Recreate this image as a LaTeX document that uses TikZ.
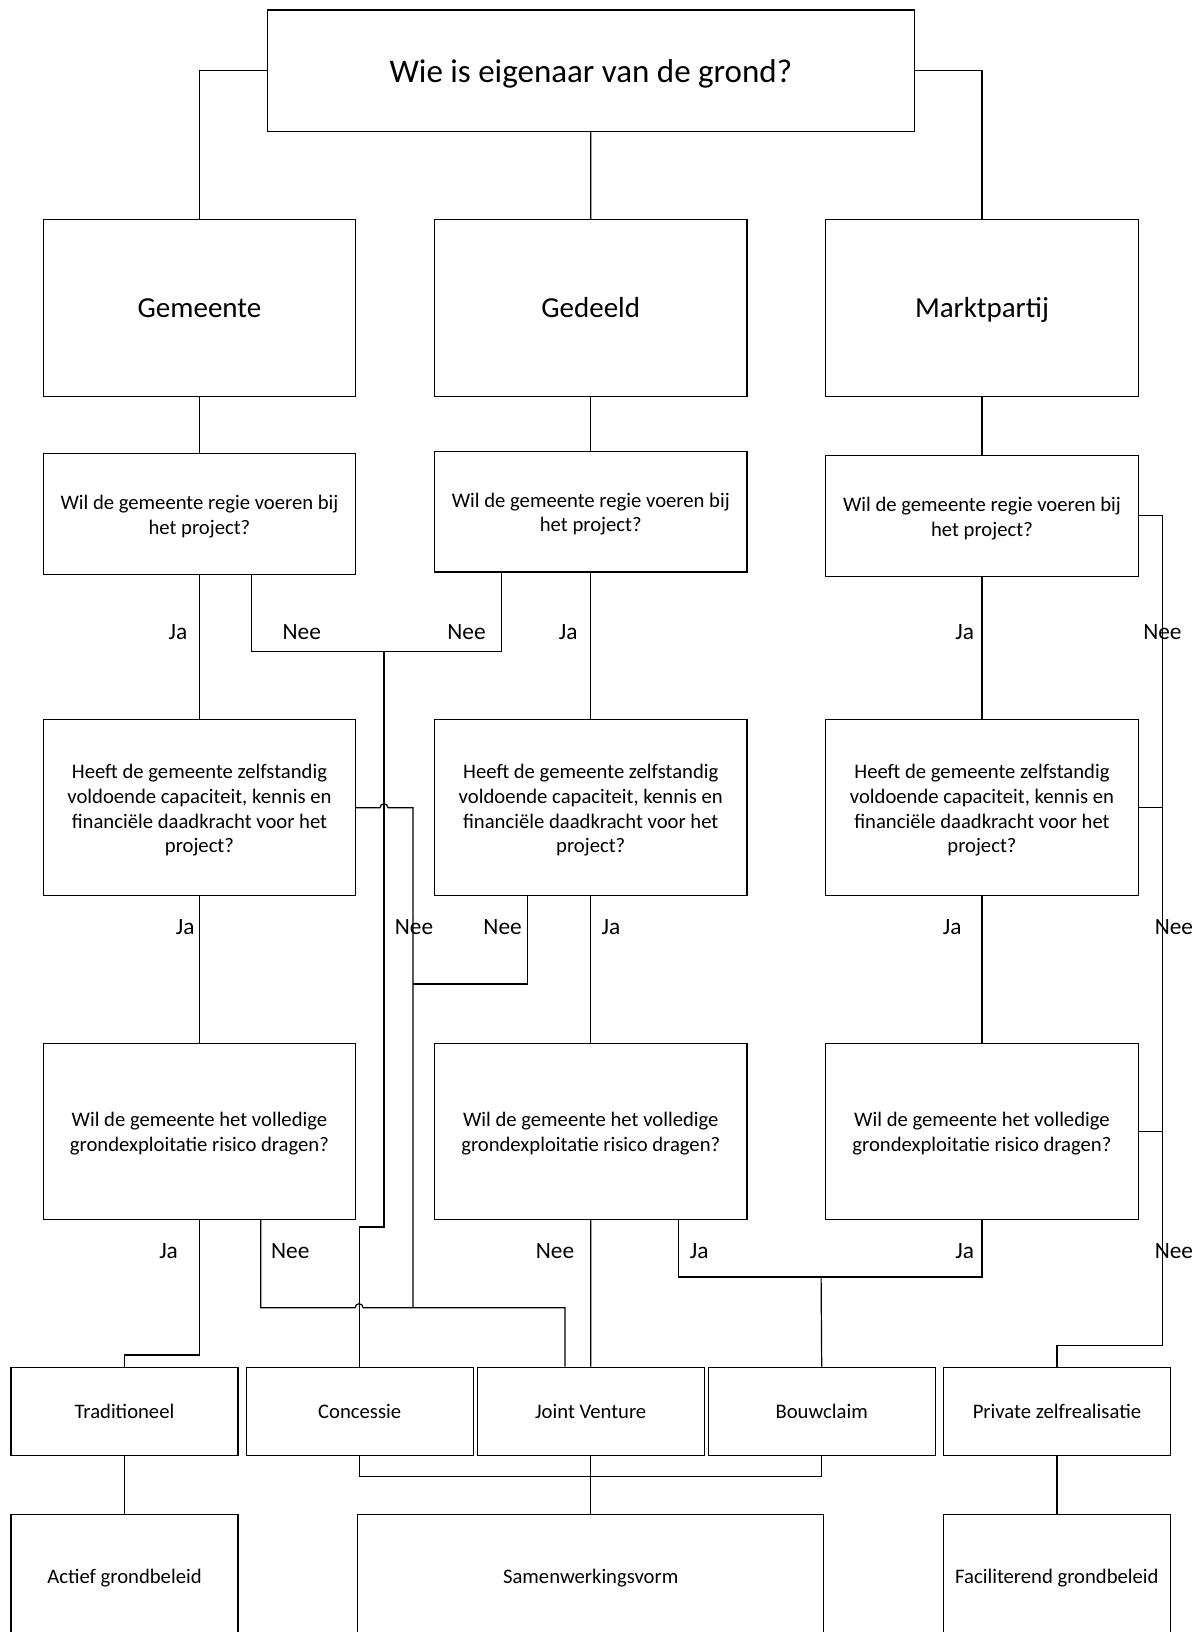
\documentclass[tikz,border=0pt]{standalone}
\usepackage{fontspec}
\setmainfont{Carlito}
\newcommand\qlines[1]{\raisebox{-2.3pt}[\height][\depth]{\begin{tabular}{@{}c@{}}#1\end{tabular}}}
\begin{document}
\begin{tikzpicture}[x=0.75pt,y=-0.75pt,line width=0.9pt,
  bx/.style 2 args={draw,line width=0.9pt,inner sep=0pt,anchor=north west,
     minimum width=#1*0.75pt,minimum height=#2*0.75pt},
  qtxt/.style={font=\fontsize{15.5pt}{18.5pt}\selectfont},
  stxt/.style={font=\fontsize{15.5pt}{18.5pt}\selectfont,text depth=0pt},
  htxt/.style={font=\fontsize{21.75pt}{26pt}\selectfont,text depth=0pt},
  ttxt/.style={font=\fontsize{24.75pt}{30pt}\selectfont,text depth=0pt},
  lab/.style={anchor=base,inner sep=0pt,font=\fontsize{17.5pt}{21pt}\selectfont}]
\useasboundingbox (0,0) rectangle (1203,1632);
\clip (0,0) rectangle (1203,1632);
% top
\node[bx={647}{121.4},ttxt] (top) at (266.7,9.3) {Wie is eigenaar van de grond?};
% row 1
\node[bx={312.3}{176.5},htxt] (g1) at (42.7,219) {Gemeente};
\node[bx={312.3}{176.5},htxt] (d1) at (434,219) {Gedeeld};
\node[bx={312.3}{176.5},htxt] (m1) at (825.2,219) {Marktpartij};
% row 2
\node[bx={312.3}{121.3},qtxt] (gq1) at (42.7,452.7) {\qlines{Wil de gemeente regie voeren bij\\het project?}};
\node[bx={312.3}{120.7},qtxt] (dq1) at (434,450.6) {\qlines{Wil de gemeente regie voeren bij\\het project?}};
\node[bx={312.3}{120.7},qtxt] (mq1) at (825.2,454.8) {\qlines{Wil de gemeente regie voeren bij\\het project?}};
% row 3
\node[bx={312.3}{176}, qtxt] (gq2) at (42.7,719.1) {\qlines{Heeft de gemeente zelfstandig\\voldoende capaciteit, kennis en\\financiële daadkracht voor het\\project?}};
\node[bx={312.3}{176}, qtxt] (dq2) at (434,719.1) {\qlines{Heeft de gemeente zelfstandig\\voldoende capaciteit, kennis en\\financiële daadkracht voor het\\project?}};
\node[bx={312.3}{176}, qtxt] (mq2) at (825.2,719.1) {\qlines{Heeft de gemeente zelfstandig\\voldoende capaciteit, kennis en\\financiële daadkracht voor het\\project?}};
% row 4
\node[bx={312.3}{176}, qtxt] (gq3) at (42.7,1042.7) {\qlines{Wil de gemeente het volledige\\grondexploitatie risico dragen?}};
\node[bx={312.3}{176}, qtxt] (dq3) at (434,1042.7) {\qlines{Wil de gemeente het volledige\\grondexploitatie risico dragen?}};
\node[bx={312.3}{176}, qtxt] (mq3) at (825.2,1042.7) {\qlines{Wil de gemeente het volledige\\grondexploitatie risico dragen?}};
% row 5
\node[bx={227}{88.3},stxt] (trad) at (10.4,1366.7) {Traditioneel};
\node[bx={227}{88.3},stxt] (conc) at (245.6,1366.7) {Concessie};
\node[bx={227}{88.3},stxt] (jv) at (476.6,1366.7) {Joint Venture};
\node[bx={227}{88.3},stxt] (bouw) at (707.6,1366.7) {Bouwclaim};
\node[bx={227}{88.3},stxt] (priv) at (942.8,1366.7) {Private zelfrealisatie};
% row 6 (cut off at the bottom)
\node[bx={227}{124},stxt] (actief) at (10.4,1513.7) {Actief grondbeleid};
\node[bx={466.2}{124},stxt] (samen) at (357,1513.7) {Samenwerkingsvorm};
\node[bx={227}{124},stxt] (facil) at (942.8,1513.7) {Faciliterend grondbeleid};
% labels
\node[lab] (la1) at (178,639) {Ja};
\node[lab] (la2) at (301.8,639) {Nee};
\node[lab] (la3) at (466.5,639) {Nee};
\node[lab] (la4) at (568.2,639) {Ja};
\node[lab] (la5) at (964.7,639) {Ja};
\node[lab] (la6) at (1162.4,639) {Nee};
\node[lab] (lb1) at (185.2,934.7) {Ja};
\node[lab] (lb2) at (414,934.7) {Nee};
\node[lab] (lb3) at (502.6,934.7) {Nee};
\node[lab] (lb4) at (610.9,934.7) {Ja};
\node[lab] (lb5) at (952.2,934.7) {Ja};
\node[lab] (lb6) at (1173.9,934.7) {Nee};
\node[lab] (lc1) at (168.6,1258.5) {Ja};
\node[lab] (lc2) at (290.3,1258.5) {Nee};
\node[lab] (lc3) at (555,1258.5) {Nee};
\node[lab] (lc4) at (699.3,1258.5) {Ja};
\node[lab] (lc5) at (964.7,1258.5) {Ja};
\node[lab] (lc6) at (1173.9,1258.5) {Nee};
% junction coordinates
\coordinate (nj1) at (384,651.7);
\coordinate (nj2) at (413,1307.7);
\coordinate (bj) at (821.1,1277);
% top connectors
\draw (top.west) -| (g1.north);
\draw (top.east) -| (m1.north);
\draw (top.south) -- (d1.north);
\draw (g1.south) -- (gq1.north);
\draw (d1.south) -- (dq1.north);
\draw (m1.south) -- (mq1.north);
% Ja chains
\draw (gq1.south) -- (gq2.north);
\draw (dq1.south) -- (dq2.north);
\draw (mq1.south) -- (mq2.north);
\draw (gq2.south) -- (gq3.north);
\draw (dq2.south) -- (dq3.north);
\draw (mq2.south) -- (mq3.north);
% Q1 Nee (gemeente + gedeeld) -> Concessie
\draw (251.7,0 |- gq1.south) |- (nj1);
\draw (501.7,0 |- dq1.south) |- (nj1);
\draw (nj1) -- (384,1227) -| (conc.north);
% Q2 Nee (gemeente + gedeeld) -> Joint Venture
\draw (gq2.east) -- (380,0 |- gq2.east) arc[start angle=180,end angle=0,radius=3pt] -- (413,0 |- gq2.east) -- (nj2);
\draw (527.7,0 |- dq2.south) |- (413,984);
% Q3 gemeente Nee -> Joint Venture
\draw (260.7,0 |- gq3.south) |- (355.1,1307.7) arc[start angle=180,end angle=0,radius=3pt] -- (565,1307.7) -- (565,0 |- jv.north);
% Q3 gemeente Ja -> Traditioneel
\draw (gq3.south) -- (gq3.south |- 0,1355) -| (trad.north);
% Q3 gedeeld
\draw (dq3.south) -- (jv.north);
\draw (678.5,0 |- dq3.south) |- (bj);
\draw (mq3.south) |- (bj);
\draw (bj) -- (bouw.north);
% Marktpartij Nee -> Private zelfrealisatie
\draw (mq1.east) -- (1162.4,0 |- mq1.east) -- (1162.4,1345.6) -| (priv.north);
\draw (mq2.east) -- (1162.4,0 |- mq2.east);
\draw (mq3.east) -- (1162.4,0 |- mq3.east);
% bottom
\draw (trad.south) -- (actief.north);
\draw (conc.south) -- (conc.south |- 0,1476.7) -| (bouw.south);
\draw (jv.south) -- (samen.north);
\draw (priv.south) -- (facil.north);
\end{tikzpicture}
\end{document}
